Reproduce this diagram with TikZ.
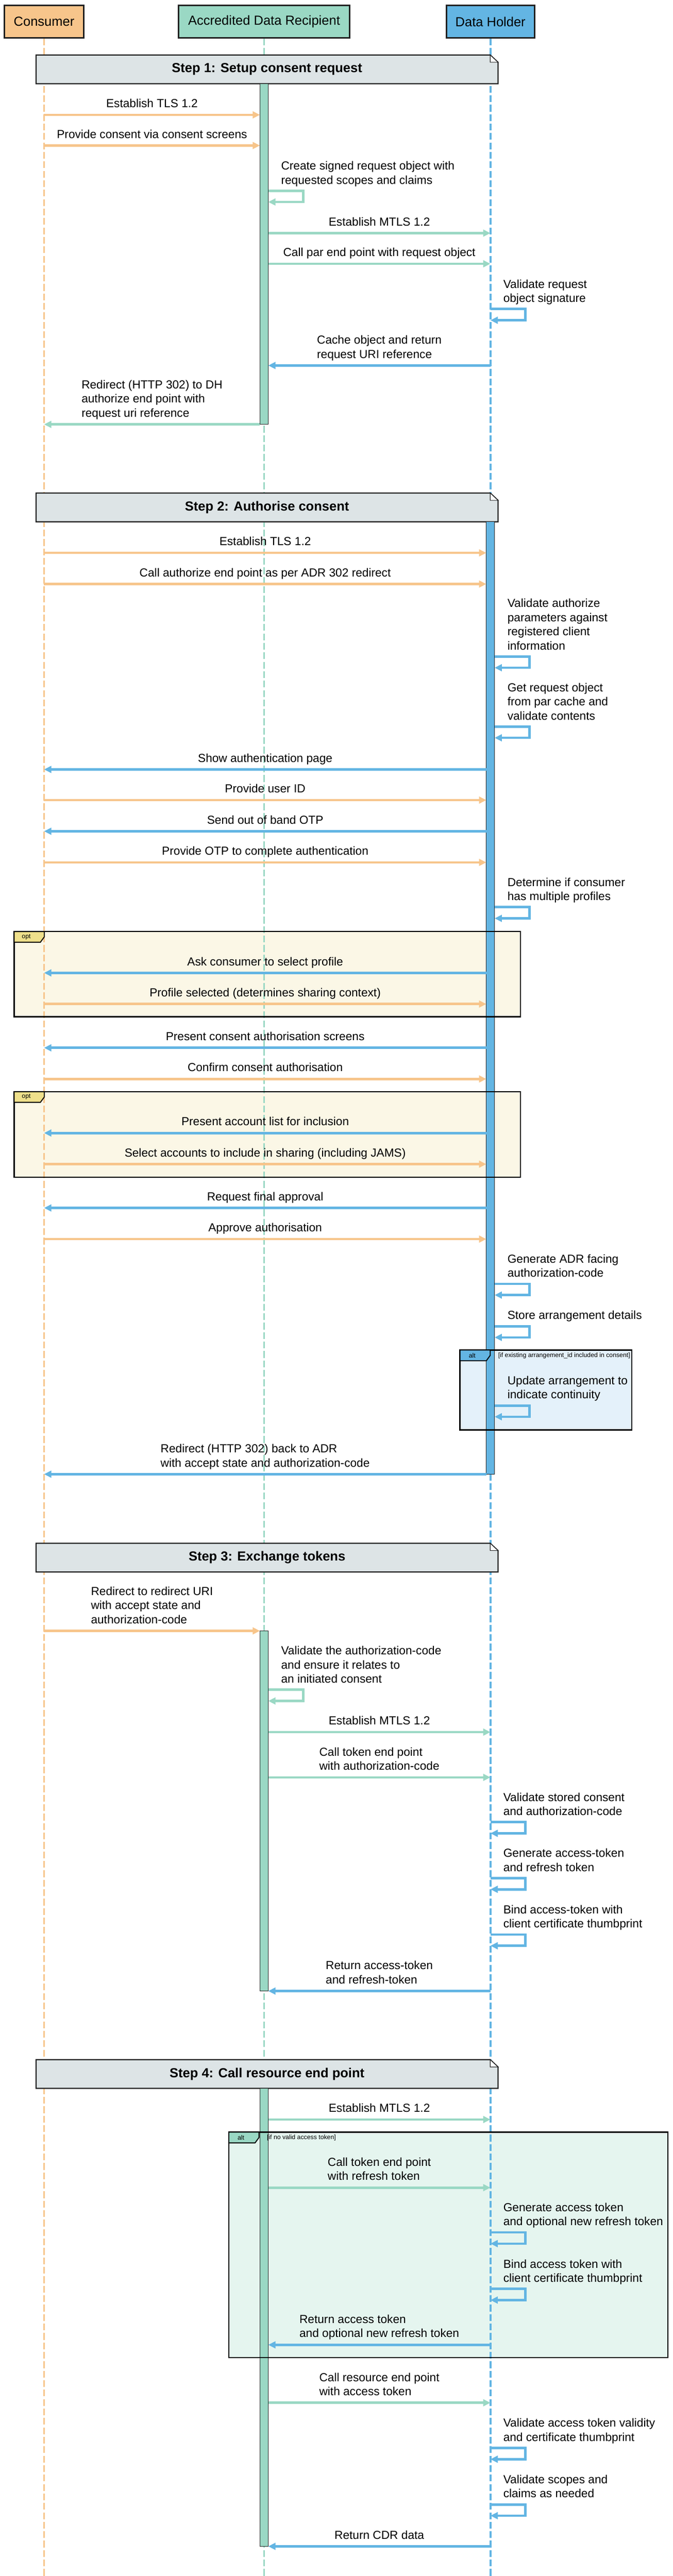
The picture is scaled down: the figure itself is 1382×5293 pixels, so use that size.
\documentclass[tikz,border=0pt]{standalone}
\usepackage{fontspec}
\setmainfont{Liberation Sans}
\usepackage{tikz}
\usetikzlibrary{arrows.meta,positioning}

\definecolor{conscol}{HTML}{F7C58B}
\definecolor{adrcol}{HTML}{9AD8C4}
\definecolor{dhcol}{HTML}{63B5E3}
\definecolor{notecol}{HTML}{DDE4E6}
\definecolor{optcol}{HTML}{EFE08B}
\definecolor{optfill}{HTML}{FBF7E6}
\definecolor{altbfill}{HTML}{E4F1FA}
\definecolor{altgfill}{HTML}{E5F5EF}
\definecolor{edgecol}{HTML}{222222}

\newcount\msgno

\begin{document}
\begin{tikzpicture}[x=0.5pt,y=-0.5pt,
	part/.style={draw=edgecol,line width=1.4pt,minimum height=33.5pt,inner sep=0pt,font=\fontsize{13.5}{16}\selectfont},
	life/.style={line width=2pt,dash pattern=on 7pt off 2.7pt},
	arr/.style={line width=2.5pt,-{Triangle[length=7.5pt,width=7pt]}},
	lbl/.style={text=black,font=\fontsize{12}{14.5}\selectfont,align=left,inner sep=0pt,execute at end node=\strut},
	bar/.style={draw=edgecol,line width=0.6pt},
	notebox/.style={fill=notecol,draw=edgecol,line width=1.2pt},
	fragline/.style={draw=black,line width=1.4pt},
	fragtxt/.style={text=black,font=\fontsize{6.5}{7}\selectfont,inner sep=0pt}]
\useasboundingbox (0,0) rectangle (1382,5293);

\def\sendmsg#1#2#3#4#5{% colour, from, to, y, text
	\global\advance\msgno by 1
	\draw[arr,#1] (#2 |- 0,#4) -- (#3 |- 0,#4) node[lbl,midway,above=2pt] (msg\the\msgno) {#5}; % message
}
\def\selfmsg#1#2#3#4{% colour, from, y, text
	\global\advance\msgno by 1
	\draw[arr,#1] (#2 |- 0,#3) node[lbl,anchor=south west,xshift=12pt,yshift=1.4pt] (msg\the\msgno) {#4} -| ++(72,23) -- (#2 |- 0,#3+23); % call to itself
}
\def\stepnote#1#2#3#4{% name, top, bottom, text
	\draw[notebox] (74,#2) -- (1007,#2) -- (1023,#2+15) -- (1023,#3) -- (74,#3) -- cycle; % note body
	\draw[edgecol,line width=0.6pt,fill=white] (1007,#2) -- (1007,#2+15) -- (1023,#2+15) -- cycle; % folded corner
	\node[font=\bfseries\fontsize{13.5}{16}\selectfont] (#1) at (548.5,{(#2+#3)/2}) {#4};
}
\def\fragframe#1#2#3#4#5#6#7#8{% x1, y1, x2, y2, tab colour, label, condition, name
	\draw[fragline] (#1,#2) rectangle (#3,#4); % frame
	\draw[fragline,line width=1pt,fill=#5] (#1,#2) -- (#1+62,#2) -- (#1+62,#2+11) -- (#1+54,#2+22) -- (#1,#2+22) -- cycle; % tab
	\node[fragtxt] (#8) at (#1+25,#2+11) {#6};
	\node[fragtxt,anchor=west] (#8 cond) at (#1+78,#2+11) {#7};
}

% participants
\node[part,fill=conscol,minimum width=81.5pt] (cons) at (90.5,44.5) {Consumer};
\node[part,fill=adrcol,minimum width=175.5pt] (adr) at (542.5,44.5) {Accredited Data Recipient};
\node[part,fill=dhcol,minimum width=90.5pt] (dh) at (1007.5,44.5) {Data Holder};

\coordinate (C) at (cons.south);
\coordinate (A) at (adr.south);
\coordinate (D) at (dh.south);
\coordinate (Al) at ([xshift=-4.25pt]adr.south); % activation bar edges
\coordinate (Ar) at ([xshift=4.25pt]adr.south);
\coordinate (Dl) at ([xshift=-4.25pt]dh.south);
\coordinate (Dr) at ([xshift=4.25pt]dh.south);

% fragment backgrounds
\fill[optfill] (29,1914) rectangle (1069,2089);
\fill[optfill] (29,2243) rectangle (1069,2419);
\fill[altbfill] (945,2774) rectangle (1298,2938);
\fill[altgfill] (470,4381) rectangle (1372,4844);

% lifelines
\draw[life,conscol] (C) -- (C |- 0,5293);
\draw[life,adrcol] (A) -- (A |- 0,5293);
\draw[life,dhcol] (D) -- (D |- 0,5293);

% steps
\stepnote{step1}{113}{172}{Step 1: Setup consent request}
\stepnote{step2}{1013}{1072}{Step 2: Authorise consent}
\stepnote{step3}{3171}{3230}{Step 3: Exchange tokens}
\stepnote{step4}{4232}{4291}{Step 4: Call resource end point}

% activation bars
\draw[bar,fill=adrcol] (Al |- 0,172) rectangle (Ar |- 0,872);
\draw[bar,fill=dhcol] (Dl |- 0,1072) rectangle (Dr |- 0,3029);
\draw[bar,fill=adrcol] (Al |- 0,3351) rectangle (Ar |- 0,4091);
\draw[bar,fill=adrcol] (Al |- 0,4291) rectangle (Ar |- 0,5232);

% fragments
\fragframe{29}{1914}{1069}{2089}{optcol}{opt}{}{opt1}
\fragframe{29}{2243}{1069}{2419}{optcol}{opt}{}{opt2}
\fragframe{945}{2774}{1298}{2938}{dhcol}{alt}{[if existing arrangement\_id included in consent]}{alt1}
\fragframe{470}{4381}{1372}{4844}{adrcol}{alt}{[if no valid access token]}{alt2}

% step 1
\sendmsg{conscol}{C}{Al}{236}{Establish TLS 1.2}
\sendmsg{conscol}{C}{Al}{299}{Provide consent via consent screens}
\selfmsg{adrcol}{Ar}{392}{Create signed request object with\\requested scopes and claims}
\sendmsg{adrcol}{Ar}{D}{479}{Establish MTLS 1.2}
\sendmsg{adrcol}{Ar}{D}{542}{Call par end point with request object}
\selfmsg{dhcol}{D}{635}{Validate request\\object signature}
\sendmsg{dhcol}{D}{Ar}{751}{Cache object and return\\request URI reference}
\sendmsg{adrcol}{Al}{C}{872}{Redirect (HTTP 302) to DH\\authorize end point with\\request uri reference}

% step 2
\sendmsg{conscol}{C}{Dl}{1136}{Establish TLS 1.2}
\sendmsg{conscol}{C}{Dl}{1200}{Call authorize end point as per ADR 302 redirect}
\selfmsg{dhcol}{Dr}{1349}{Validate authorize\\parameters against\\registered client\\information}
\selfmsg{dhcol}{Dr}{1493}{Get request object\\from par cache and\\validate contents}
\sendmsg{dhcol}{Dl}{C}{1581}{Show authentication page}
\sendmsg{conscol}{C}{Dl}{1644}{Provide user ID}
\sendmsg{dhcol}{Dl}{C}{1708}{Send out of band OTP}
\sendmsg{conscol}{C}{Dl}{1772}{Provide OTP to complete authentication}
\selfmsg{dhcol}{Dr}{1864}{Determine if consumer\\has multiple profiles}
\sendmsg{dhcol}{Dl}{C}{1999}{Ask consumer to select profile}
\sendmsg{conscol}{C}{Dl}{2063}{Profile selected (determines sharing context)}
\sendmsg{dhcol}{Dl}{C}{2153}{Present consent authorisation screens}
\sendmsg{conscol}{C}{Dl}{2217}{Confirm consent authorisation}
\sendmsg{dhcol}{Dl}{C}{2328}{Present account list for inclusion}
\sendmsg{conscol}{C}{Dl}{2392}{Select accounts to include in sharing (including JAMS)}
\sendmsg{dhcol}{Dl}{C}{2482}{Request final approval}
\sendmsg{conscol}{C}{Dl}{2546}{Approve authorisation}
\selfmsg{dhcol}{Dr}{2638}{Generate ADR facing\\authorization-code}
\selfmsg{dhcol}{Dr}{2725}{Store arrangement details}
\selfmsg{dhcol}{Dr}{2888}{Update arrangement to\\indicate continuity}
\sendmsg{dhcol}{Dl}{C}{3029}{Redirect (HTTP 302) back to ADR\\with accept state and authorization-code}

% step 3
\sendmsg{conscol}{C}{Al}{3351}{Redirect to redirect URI\\with accept state and\\authorization-code}
\selfmsg{adrcol}{Ar}{3472}{Validate the authorization-code\\and ensure it relates to\\an initiated consent}
\sendmsg{adrcol}{Ar}{D}{3559}{Establish MTLS 1.2}
\sendmsg{adrcol}{Ar}{D}{3652}{Call token end point\\with authorization-code}
\selfmsg{dhcol}{D}{3744}{Validate stored consent\\and authorization-code}
\selfmsg{dhcol}{D}{3859}{Generate access-token\\and refresh token}
\selfmsg{dhcol}{D}{3975}{Bind access-token with\\client certificate thumbprint}
\sendmsg{dhcol}{D}{Ar}{4091}{Return access-token\\and refresh-token}

% step 4
\sendmsg{adrcol}{Ar}{D}{4355}{Establish MTLS 1.2}
\sendmsg{adrcol}{Ar}{D}{4495}{Call token end point\\with refresh token}
\selfmsg{dhcol}{D}{4587}{Generate access token\\and optional new refresh token}
\selfmsg{dhcol}{D}{4703}{Bind access token with\\client certificate thumbprint}
\sendmsg{dhcol}{D}{Ar}{4818}{Return access token\\and optional new refresh token}
\sendmsg{adrcol}{Ar}{D}{4937}{Call resource end point\\with access token}
\selfmsg{dhcol}{D}{5030}{Validate access token validity\\and certificate thumbprint}
\selfmsg{dhcol}{D}{5146}{Validate scopes and\\claims as needed}
\sendmsg{dhcol}{D}{Ar}{5232}{Return CDR data}
\end{tikzpicture}
\end{document}
